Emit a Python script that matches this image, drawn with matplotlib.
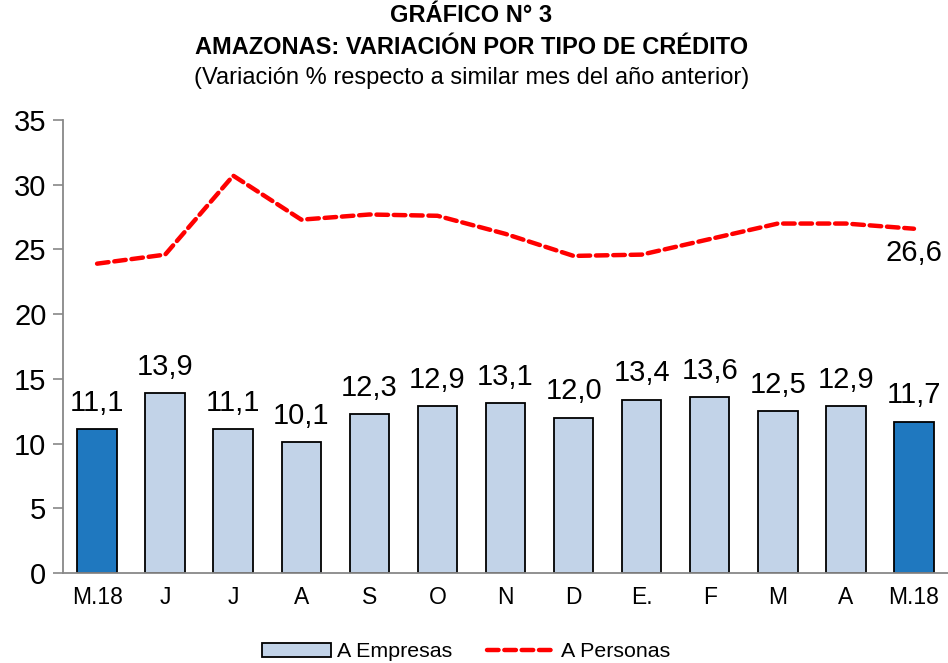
import matplotlib
matplotlib.use("Agg")
import matplotlib.pyplot as plt
from matplotlib.patches import Patch
import numpy as np

categories = ["M.18", "J", "J", "A", "S", "O", "N", "D", "E.", "F", "M", "A", "M.18"]
empresas = [11.1, 13.9, 11.1, 10.1, 12.3, 12.9, 13.1, 12.0, 13.4, 13.6, 12.5, 12.9, 11.7]
personas = [23.9, 24.6, 30.7, 27.3, 27.7, 27.6, 26.2, 24.5, 24.6, 25.8, 27.0, 27.0, 26.6]
highlight = [0, 12]

plt.rcParams['font.family'] = ['Liberation Sans', 'DejaVu Sans']

fig = plt.figure(figsize=(9.48, 6.63), dpi=100)
ax = fig.add_axes([0.0665, 0.1357, 0.9335, 0.6833])

x = np.arange(len(categories))
light = "#c2d3e8"
dark = "#1f78bf"
colors = [dark if i in highlight else light for i in range(len(categories))]
ax.bar(x, empresas, width=0.58, color=colors, edgecolor="black", linewidth=1.3, zorder=2)
for xi, v in zip(x, empresas):
    ax.text(xi, v + 0.95, f"{v:.1f}".replace(".", ","), ha="center", va="bottom", fontsize=21)

line, = ax.plot(x, personas, color="#ff0000", linewidth=3.2, dashes=(2.6, 1.3),
                dash_capstyle="round", zorder=3)
ax.text(x[-1], personas[-1] - 0.8, f"{personas[-1]:.1f}".replace(".", ","),
        ha="center", va="top", fontsize=21)

ax.set_xlim(-0.5, len(categories) - 0.5)
ax.set_ylim(0, 35)
ax.set_yticks(np.arange(0, 36, 5))
ax.set_xticks(x)
ax.set_xticklabels(categories, fontsize=16.5)
ax.tick_params(axis="y", labelsize=21, length=7, color="#888888", width=1.2, pad=5)
ax.tick_params(axis="x", length=0, pad=9)
for s in ["top", "right"]:
    ax.spines[s].set_visible(False)
for s in ["left", "bottom"]:
    ax.spines[s].set_color("#888888")
    ax.spines[s].set_linewidth(1.3)

fig.text(0.497, 0.976, "GRÁFICO N° 3", ha="center", va="center", fontsize=17, fontweight="bold")
fig.text(0.497, 0.928, "AMAZONAS: VARIACIÓN POR TIPO DE CRÉDITO", ha="center", va="center",
         fontsize=17, fontweight="bold")
fig.text(0.497, 0.882, "(Variación % respecto a similar mes del año anterior)", ha="center",
         va="center", fontsize=17)

bar_handle = Patch(facecolor=light, edgecolor="black", linewidth=1.3)
fig.legend(handles=[bar_handle, line], labels=["A Empresas", "A Personas"], loc="center",
           bbox_to_anchor=(0.492, 0.017), ncol=2, frameon=False, fontsize=15.4,
           handlelength=3.2, handleheight=0.65, columnspacing=1.6, handletextpad=0.3)

fig.savefig("out.png", dpi=100)
